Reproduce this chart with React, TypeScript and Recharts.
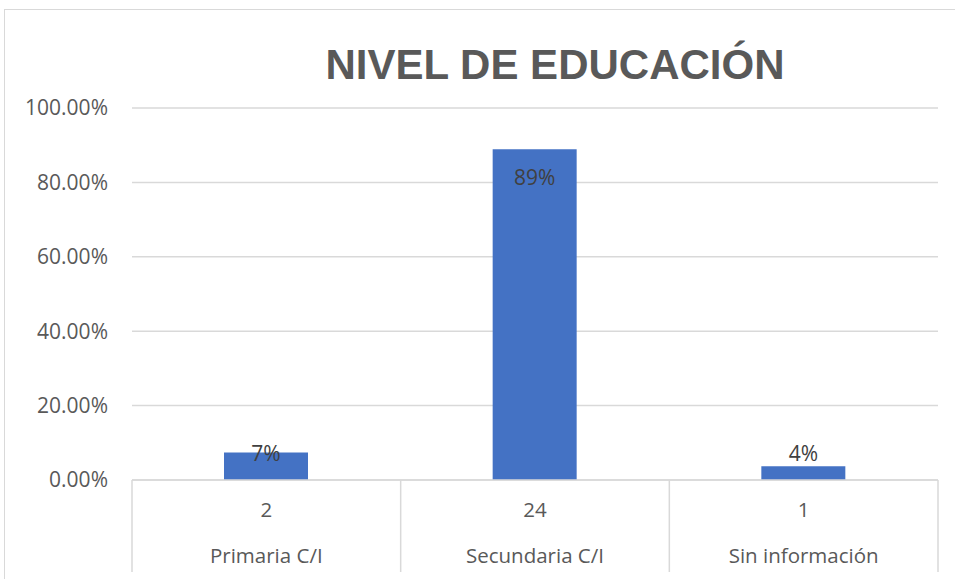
import { BarChart, Bar, XAxis, YAxis, CartesianGrid, LabelList } from 'recharts';

const categorias = ['Primaria C/I', 'Secundaria C/I', 'Sin información'];
const cantidades = [2, 24, 1];
const porcentajes = [0.0741, 0.8889, 0.037];
const ticksY = [0, 0.2, 0.4, 0.6, 0.8, 1];

const data = categorias.map((nombre, i) => ({
  nombre,
  cantidad: cantidades[i],
  valor: porcentajes[i],
}));

const GRIS = '#595959';
const LINEA = '#d9d9d9';
const FUENTE = '"Open Sans", "Noto Sans", sans-serif';

const TickY = (props: any) => {
  const { x, y, payload } = props;
  return (
    <text x={x} y={y} dy="0.35em" textAnchor="end" fill={GRIS} fontSize={21} fontFamily={FUENTE}>
      {(payload.value * 100).toFixed(2)}%
    </text>
  );
};

const TickX = (props: any) => {
  const { x, y, payload, index } = props;
  const half = payload.offset || (938 - 132) / 3 / 2;
  const item = data[index];
  return (
    <g>
      <line x1={x - half} y1={y} x2={x - half} y2={y + 92} stroke={LINEA} strokeWidth={1.5} />
      {index === data.length - 1 && (
        <line x1={x + half} y1={y} x2={x + half} y2={y + 92} stroke={LINEA} strokeWidth={1.5} />
      )}
      <text x={x} y={y + 30} dy="0.35em" textAnchor="middle" fill={GRIS} fontSize={20.5} fontFamily={FUENTE}>
        {item ? item.cantidad : ''}
      </text>
      <text x={x} y={y + 76} dy="0.35em" textAnchor="middle" fill={GRIS} fontSize={20.5} fontFamily={FUENTE}>
        {payload.value}
      </text>
    </g>
  );
};

const Etiqueta = (props: any) => {
  const { x, y, width, height, value } = props;
  const cy = Math.min(y + 28, y + height - 26);
  return (
    <text x={x + width / 2} y={cy} dy="0.35em" textAnchor="middle" fill="#404040" fontSize={21} fontFamily={FUENTE}>
      {Math.round(value * 100)}%
    </text>
  );
};

const App = () => {
  return (
    <div style={{ position: 'absolute', left: 0, top: 0, width: 955, height: 579, background: '#fff', overflow: 'hidden' }}>
      <div
        style={{
          position: 'absolute',
          left: 4,
          top: 9,
          width: 970,
          height: 600,
          border: `1px solid ${LINEA}`,
          boxSizing: 'border-box',
        }}
      />
      <div style={{ position: 'absolute', left: 0, top: 0 }}>
        <BarChart width={955} height={579} data={data} margin={{ top: 108, right: 17, left: 0, bottom: 0 }}>
          <text
            x={555}
            y={79}
            textAnchor="middle"
            fill={GRIS}
            fontSize={42}
            fontWeight="bold"
            fontFamily='"Liberation Sans", Arial, sans-serif'
          >
            NIVEL DE EDUCACIÓN
          </text>
          <CartesianGrid vertical={false} stroke={LINEA} strokeWidth={1.5} />
          <XAxis
            dataKey="nombre"
            height={99}
            interval={0}
            tickSize={0}
            tickMargin={0}
            tickLine={false}
            axisLine={{ stroke: LINEA, strokeWidth: 1.5 }}
            tick={<TickX />}
          />
          <YAxis
            width={132}
            domain={[0, 1]}
            ticks={ticksY}
            tickSize={0}
            tickMargin={24}
            tickLine={false}
            axisLine={false}
            tick={<TickY />}
          />
          <Bar dataKey="valor" fill="#4472C4" barSize={84} isAnimationActive={false}>
            <LabelList dataKey="valor" content={<Etiqueta />} />
          </Bar>
        </BarChart>
      </div>
    </div>
  );
};

export default App;
